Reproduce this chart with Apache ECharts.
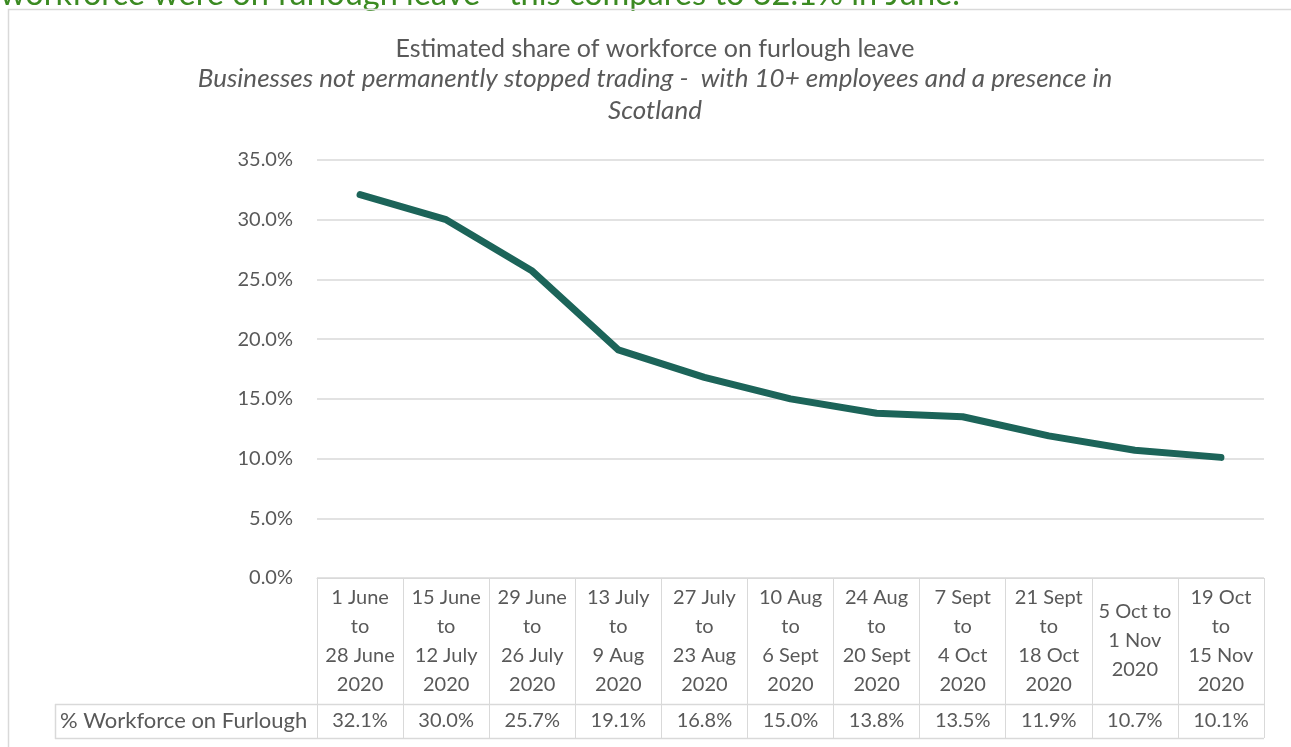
<!DOCTYPE html>
<html>
<head>
<meta charset="utf-8">
<script src="https://cdn.jsdelivr.net/npm/echarts@6/dist/echarts.min.js"></script>
<style>
  html, body { margin: 0; padding: 0; background: #fff; }
  #main { width: 1291px; height: 747px; }
</style>
</head>
<body>
<div id="main"></div>
<script>
// periods (table header), furlough share (%), y ticks
const periods = [
  '1 June\nto\n28 June\n2020',
  '15 June\nto\n12 July\n2020',
  '29 June\nto\n26 July\n2020',
  '13 July\nto\n9 Aug\n2020',
  '27 July\nto\n23 Aug\n2020',
  '10 Aug\nto\n6 Sept\n2020',
  '24 Aug\nto\n20 Sept\n2020',
  '7 Sept\nto\n4 Oct\n2020',
  '21 Sept\nto\n18 Oct\n2020',
  '5 Oct to\n1 Nov\n2020',
  '19 Oct\nto\n15 Nov\n2020'
];
const furlough = [32.1, 30.0, 25.7, 19.1, 16.8, 15.0, 13.8, 13.5, 11.9, 10.7, 10.1];
const yMax = 35, yStep = 5;

const seriesName = '% Workforce on Furlough';
const font = 'Lato';
const grey = '#595959';
const border = '#d9d9d9';

var myChart = echarts.init(document.getElementById('main'));

var option = {
  animation: false,
  title: {
    text: 'Estimated share of workforce on furlough leave',
    subtext: 'Businesses not permanently stopped trading -  with 10+ employees and a presence in\nScotland',
    left: 650,
    top: 31,
    textAlign: 'center',
    itemGap: 2,
    textStyle: { fontFamily: font, fontSize: 25, fontWeight: 'normal', color: grey },
    subtextStyle: { fontFamily: font, fontSize: 26, fontStyle: 'italic', color: grey, lineHeight: 32 }
  },
  grid: { left: 317, right: 27, top: 160, bottom: 169 },
  xAxis: [{
    type: 'category',
    data: periods,
    boundaryGap: true,
    axisLine: { lineStyle: { color: border, width: 1 } },
    axisTick: { show: true, length: 160, interval: 0, lineStyle: { color: border, width: 1 } },
    axisLabel: {
      interval: 0, margin: 63, verticalAlign: 'middle', lineHeight: 29,
      fontFamily: font, fontSize: 20, color: grey
    }
  }, {
    type: 'category',
    data: periods,
    position: 'bottom',
    axisLine: { show: false },
    axisTick: { show: false },
    axisLabel: {
      interval: 0, margin: 143, verticalAlign: 'middle',
      fontFamily: font, fontSize: 20, color: grey,
      formatter: (v, i) => furlough[i].toFixed(1) + '%'
    }
  }],
  yAxis: {
    type: 'value',
    min: 0, max: yMax, interval: yStep,
    axisLine: { show: false },
    axisTick: { show: false },
    splitLine: { lineStyle: { color: border, width: 1.5 } },
    axisLabel: {
      margin: 24, fontFamily: font, fontSize: 20, color: grey,
      formatter: v => v.toFixed(1) + '%'
    }
  },
  series: [{
    name: seriesName,
    type: 'line',
    data: furlough,
    symbol: 'none',
    lineStyle: { color: '#1c6459', width: 7, cap: 'round', join: 'round' }
  }],
  graphic: [
    // green sentence cut off above the chart
    { type: 'text', left: 0, top: -22, style: {
        text: 'workforce were on furlough leave - this compares to 32.1% in June.',
        font: '32.5px Lato', fill: '#3b8a22' } },
    // chart frame
    { type: 'rect', shape: { x: 8.5, y: 9.5, width: 1400, height: 800 },
      style: { fill: null, stroke: border, lineWidth: 1.5 } },
    // legend cell of the data table
    { type: 'line', shape: { x1: 55, y1: 704.5, x2: 1264, y2: 704.5 }, style: { stroke: border, lineWidth: 1.5 } },
    { type: 'line', shape: { x1: 55, y1: 738.5, x2: 1264, y2: 738.5 }, style: { stroke: border, lineWidth: 1.5 } },
    { type: 'line', shape: { x1: 55.5, y1: 704, x2: 55.5, y2: 739 }, style: { stroke: border, lineWidth: 1.5 } },
    { type: 'text', x: 60, y: 721, style: {
        text: seriesName, font: '22px Lato', fill: grey, verticalAlign: 'middle' } }
  ]
};

myChart.setOption(option);
</script>
</body>
</html>
